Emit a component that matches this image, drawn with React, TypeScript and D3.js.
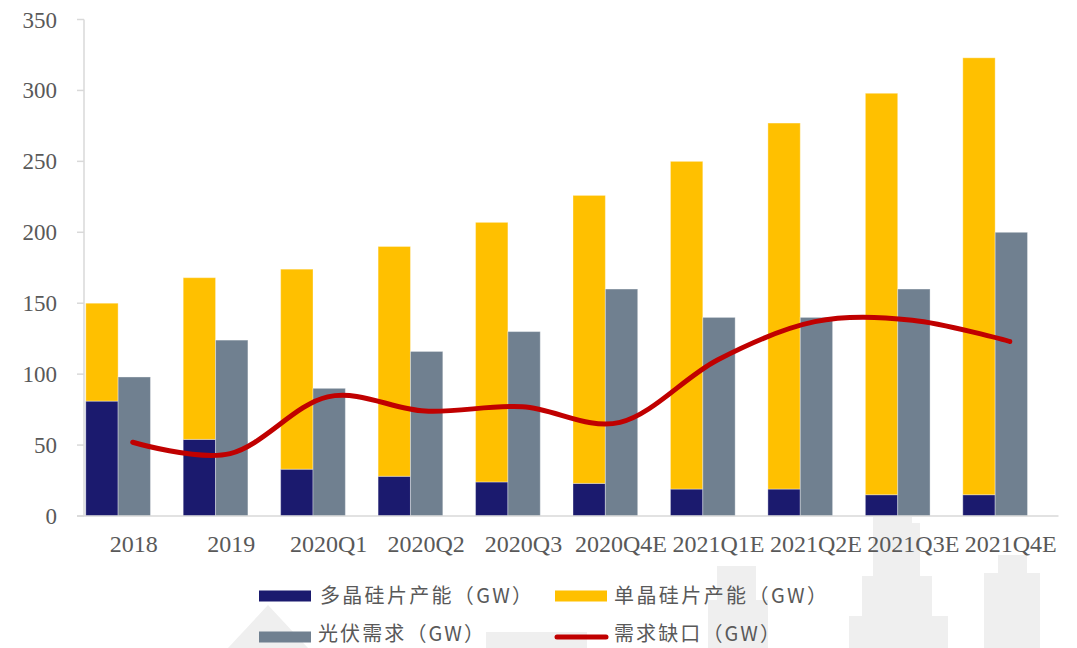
import React from 'react';
import * as d3 from 'd3';

const categories = ['2018', '2019', '2020Q1', '2020Q2', '2020Q3', '2020Q4E', '2021Q1E', '2021Q2E', '2021Q3E', '2021Q4E'];
const polyCapacity = [81, 54, 33, 28, 24, 23, 19, 19, 15, 15];
const monoCapacity = [69, 114, 141, 162, 183, 203, 231, 258, 283, 308];
const pvDemand = [98, 124, 90, 116, 130, 160, 140, 140, 160, 200];
const supplyGap = [52, 44, 84, 74, 77, 66, 110, 137, 138, 123];
const yTicks = [0, 50, 100, 150, 200, 250, 300, 350];

const seriesNames = ['多晶硅片产能（GW）', '单晶硅片产能（GW）', '光伏需求（GW）', '需求缺口（GW）'];
const colors = { poly: '#1B1A6E', mono: '#FFC000', demand: '#708090', gap: '#C00000' };

const W = 1077;
const H = 648;
const plotLeft = 84;
const plotRight = 1058.5;
const yTop = 19.5;
const yBottom = 516;
const textColor = '#595959';
const axisColor = '#D9D9D9';
const serif = '"Liberation Serif", "Times New Roman", serif';
const cjk = '"Noto Sans CJK SC", "Liberation Serif", serif';

export default function App() {
  const x = d3.scaleBand<string>().domain(categories).range([plotLeft, plotRight]).paddingInner(0).paddingOuter(0);
  const y = d3.scaleLinear().domain([0, 350]).range([yBottom, yTop]);
  const bw = x.bandwidth();
  const barW = bw * 0.332;
  const barOff = bw * 0.018;

  const line = d3
    .line<number>()
    .x((_, i) => (x(categories[i]) as number) + bw / 2)
    .y((d) => y(d))
    .curve(d3.curveCardinal.tension(0));

  const legendItems = [
    { name: seriesNames[0], color: colors.poly, sx: 259, tx: 320, y: 596, ty: 603, len: 212, type: 'rect' },
    { name: seriesNames[1], color: colors.mono, sx: 555, tx: 614, y: 596, ty: 603, len: 213, type: 'rect' },
    { name: seriesNames[2], color: colors.demand, sx: 259, tx: 318, y: 637, ty: 641, len: 166, type: 'rect' },
    { name: seriesNames[3], color: colors.gap, sx: 555, tx: 614, y: 637, ty: 641, len: 166, type: 'line' },
  ];

  return (
    <svg width={W} height={H} style={{ position: 'absolute', left: 0, top: 0, background: '#fff' }}>
      {/* faint background watermark */}
      <g fill="#EFEFEF">
        <path d="M268,605 L308,648 L228,648 Z" />
        <rect x={486} y={632} width={101} height={16} />
        <rect x={717} y={566} width={39} height={82} />
        <rect x={708} y={600} width={60} height={48} />
        <rect x={873} y={517} width={39} height={131} />
        <rect x={873} y={523} width={47} height={125} />
        <rect x={862} y={576} width={70} height={72} />
        <rect x={849} y={616} width={99} height={32} />
        <rect x={998} y={555} width={29} height={93} />
        <rect x={984} y={573} width={56} height={75} />
      </g>

      {/* axes */}
      <line x1={plotLeft} x2={plotLeft} y1={yTop} y2={yBottom} stroke={axisColor} strokeWidth={1.5} />
      {yTicks.map((t) => (
        <g key={t}>
          <line x1={77} x2={plotLeft} y1={y(t)} y2={y(t)} stroke={axisColor} strokeWidth={1.5} />
          <text x={57} y={y(t)} dy="0.35em" textAnchor="end" fontFamily={serif} fontSize={23} fill={textColor}>
            {t}
          </text>
        </g>
      ))}

      {/* bars */}
      {categories.map((c, i) => {
        const x0 = (x(c) as number) + barOff;
        return (
          <g key={c} stroke="#ffffff" strokeOpacity={0.35} strokeWidth={1}>
            <rect x={x0} y={y(polyCapacity[i])} width={barW} height={y(0) - y(polyCapacity[i])} fill={colors.poly} />
            <rect
              x={x0}
              y={y(polyCapacity[i] + monoCapacity[i])}
              width={barW}
              height={y(polyCapacity[i]) - y(polyCapacity[i] + monoCapacity[i])}
              fill={colors.mono}
            />
            <rect x={x0 + barW} y={y(pvDemand[i])} width={barW} height={y(0) - y(pvDemand[i])} fill={colors.demand} />
          </g>
        );
      })}

      <line x1={77} x2={plotRight} y1={yBottom} y2={yBottom} stroke={axisColor} strokeWidth={1.5} />

      {/* gap line */}
      <path d={line(supplyGap) as string} fill="none" stroke={colors.gap} strokeWidth={5} strokeLinecap="round" strokeLinejoin="round" />

      {/* x labels */}
      {categories.map((c) => (
        <text key={c} x={(x(c) as number) + bw / 2 + 1} y={552} textAnchor="middle" fontFamily={serif} fontSize={24} fill={textColor}>
          {c}
        </text>
      ))}

      {/* legend */}
      {legendItems.map((it) => (
        <g key={it.name}>
          {it.type === 'rect' ? (
            <rect x={it.sx} y={it.y - 5.5} width={52} height={11} fill={it.color} />
          ) : (
            <line x1={it.sx + 2} x2={it.sx + 51} y1={it.y} y2={it.y} stroke={it.color} strokeWidth={5} strokeLinecap="round" />
          )}
          <text
            x={it.tx}
            y={it.ty}
            fontFamily={cjk}
            fontSize={20}
            fill={textColor}
            textLength={it.len}
            lengthAdjust="spacing"
          >
            {it.name}
          </text>
        </g>
      ))}
    </svg>
  );
}
